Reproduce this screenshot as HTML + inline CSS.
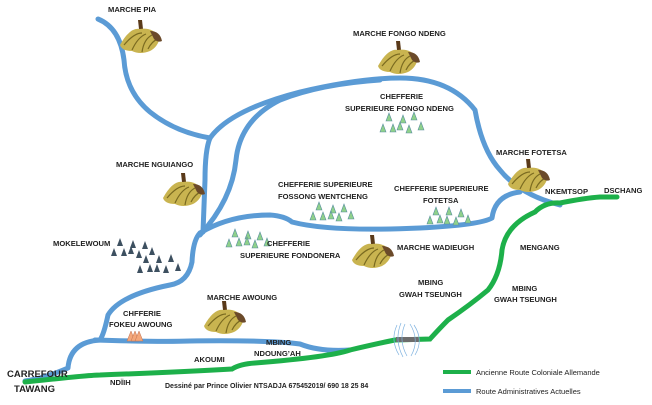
<!DOCTYPE html><html><head><meta charset="utf-8"><style>
body{margin:0;background:#fff;width:652px;height:405px;overflow:hidden}
svg{display:block}
text{font-family:"Liberation Sans",sans-serif;font-weight:bold;font-size:7.6px;fill:#222}
.b{fill:none;stroke:#5b9bd5;stroke-width:5;stroke-linecap:round;stroke-linejoin:round}
.g{fill:none;stroke:#1db04a;stroke-width:5;stroke-linecap:round}
.t{fill:#8fd18a;stroke:#5a8fa0;stroke-width:0.6}
.d{fill:#3d5060}
</style></head><body>
<svg width="652" height="405" viewBox="0 0 652 405">
<defs>
<g id="ban">
<path d="M-2,-17 L2,-17 L3,-8 L-1,-8Z" fill="#5a3a1a"/>
<path d="M-20,8 Q-10,-10 0,-8 Q12,-10 20,0 Q18,10 10,14 Q0,18 -8,14 Q-18,14 -20,8Z" fill="#c9b450"/>
<path d="M-16,8 Q-6,-4 2,-4 M-8,13 Q-2,0 6,-3 M2,15 Q4,2 12,-2 M8,12 Q12,4 18,2" stroke="#7a6a20" stroke-width="1.2" fill="none"/>
<path d="M10,-6 Q20,-6 22,4 Q18,6 14,2Z" fill="#6b4a2a"/>
</g>
<path id="tr" d="M0,-4 L3,4 L-3,4Z"/>
</defs>
<path class="b" d="M98,19 Q120,28 124,60 Q126,92 150,112 Q175,132 210,138"/>
<path class="b" d="M210,138 Q205,150 205,180 L203,232"/>
<path class="b" d="M210,138 Q230,110 300,92 Q360,78 400,78 Q450,78 475,110 Q482,150 500,170 Q520,195 560,205"/>
<path class="b" d="M200,235 Q232,200 236,160 Q240,120 280,100 Q320,84 380,80"/>
<path class="b" d="M200,233 Q230,215 270,215 Q285,216 292,222 Q330,232 420,228 Q480,225 492,218 Q495,195 520,192"/>
<path class="b" d="M200,233 Q193,240 192,262 Q188,282 170,285 Q120,295 108,315 Q104,334 100,340 Q70,342 68,368 Q45,378 25,381"/>
<path class="b" d="M95,340 Q160,342 190,341 Q270,340 300,344 Q320,352 350,350"/>
<path class="g" d="M25,382 Q90,375 100,375 Q180,372 232,369 Q240,364 255,363 Q330,357 350,350 Q380,343 395,340 L430,339 Q440,328 448,320 Q470,305 488,290 Q500,275 502,250 Q506,225 535,212 Q545,202 560,203 Q585,198 600,197 L617,197"/>
<rect x="396" y="337" width="23" height="5" fill="#6d6d6d"/>
<g fill="none" stroke="#7fb3e0" stroke-width="0.7">
<path d="M397,325 Q390,340 399,355"/><path d="M401,323 Q394,340 403,357"/><path d="M405,324 Q398,340 407,356"/>
<path d="M410,324 Q420,340 411,356"/><path d="M414,325 Q424,340 415,355"/>
</g>
<use href="#ban" x="140" y="37"/>
<use href="#ban" x="398" y="58"/>
<use href="#ban" x="183" y="190"/>
<use href="#ban" x="528" y="176"/>
<use href="#ban" x="372" y="252"/>
<use href="#ban" x="224" y="318"/>
<g class="t">
<use href="#tr" x="389" y="117"/><use href="#tr" x="403" y="119"/><use href="#tr" x="414" y="116"/><use href="#tr" x="383" y="128"/><use href="#tr" x="393" y="128"/><use href="#tr" x="400" y="126"/><use href="#tr" x="409" y="129"/><use href="#tr" x="421" y="126"/>
<use href="#tr" x="319" y="206"/><use href="#tr" x="333" y="209"/><use href="#tr" x="344" y="208"/><use href="#tr" x="313" y="216"/><use href="#tr" x="323" y="216"/><use href="#tr" x="331" y="215"/><use href="#tr" x="339" y="217"/><use href="#tr" x="351" y="215"/>
<use href="#tr" x="436" y="211"/><use href="#tr" x="449" y="211"/><use href="#tr" x="461" y="213"/><use href="#tr" x="430" y="220"/><use href="#tr" x="440" y="219"/><use href="#tr" x="447" y="220"/><use href="#tr" x="456" y="221"/><use href="#tr" x="468" y="219"/>
<use href="#tr" x="235" y="233"/><use href="#tr" x="248" y="235"/><use href="#tr" x="260" y="236"/><use href="#tr" x="229" y="243"/><use href="#tr" x="239" y="242"/><use href="#tr" x="247" y="241"/><use href="#tr" x="255" y="244"/><use href="#tr" x="267" y="242"/>
</g>
<g class="d">
<use href="#tr" x="120" y="242"/><use href="#tr" x="133" y="244"/><use href="#tr" x="145" y="245"/><use href="#tr" x="114" y="252"/><use href="#tr" x="124" y="252"/><use href="#tr" x="131" y="250"/><use href="#tr" x="139" y="254"/><use href="#tr" x="152" y="251"/><use href="#tr" x="146" y="259"/><use href="#tr" x="159" y="259"/><use href="#tr" x="171" y="258"/><use href="#tr" x="140" y="269"/><use href="#tr" x="150" y="268"/><use href="#tr" x="157" y="268"/><use href="#tr" x="166" y="269"/><use href="#tr" x="178" y="267"/>
</g>
<g fill="#f4a77a" stroke="#c07050" stroke-width="0.5">
<path d="M127,341 L131,331 L135,341Z"/><path d="M131,341 L135,331 L139,341Z"/><path d="M135,341 L139,331 L143,341Z"/>
</g>
<text x="108" y="12">MARCHE  PIA</text>
<text x="353" y="36">MARCHE  FONGO NDENG</text>
<text x="380" y="99">CHEFFERIE</text>
<text x="345" y="111">SUPERIEURE FONGO NDENG</text>
<text x="116" y="167">MARCHE  NGUIANGO</text>
<text x="278" y="187">CHEFFERIE SUPERIEURE</text>
<text x="278" y="199">FOSSONG WENTCHENG</text>
<text x="394" y="191">CHEFFERIE SUPERIEURE</text>
<text x="423" y="203">FOTETSA</text>
<text x="496" y="155">MARCHE  FOTETSA</text>
<text x="545" y="194">NKEMTSOP</text>
<text x="604" y="193">DSCHANG</text>
<text x="53" y="246">MOKELEWOUM</text>
<text x="267" y="246">CHEFFERIE</text>
<text x="240" y="258">SUPERIEURE FONDONERA</text>
<text x="397" y="250">MARCHE  WADIEUGH</text>
<text x="520" y="250">MENGANG</text>
<text x="418" y="285">MBING</text>
<text x="399" y="297">GWAH TSEUNGH</text>
<text x="512" y="291">MBING</text>
<text x="494" y="302">GWAH TSEUNGH</text>
<text x="207" y="300">MARCHE  AWOUNG</text>
<text x="123" y="316">CHFFERIE</text>
<text x="109" y="327">FOKEU AWOUNG</text>
<text x="266" y="345">MBING</text>
<text x="254" y="356">NDOUNG’AH</text>
<text x="194" y="362">AKOUMI</text>
<text x="110" y="385">NDÏIH</text>
<text x="165" y="388" style="font-size:7px">Dessiné par Prince Olivier NTSADJA 675452019/ 690 18 25 84</text>
<text x="7" y="377" style="font-size:9.5px">CARREFOUR</text>
<text x="14" y="392" style="font-size:9.5px">TAWANG</text>
<rect x="443" y="370" width="28" height="4" fill="#1db04a"/>
<rect x="443" y="389" width="28" height="4" fill="#5b9bd5"/>
<text x="476" y="375" style="font-weight:normal;font-size:7.5px">Ancienne Route Coloniale Allemande</text>
<text x="476" y="394" style="font-weight:normal;font-size:7.5px">Route Administratives Actuelles</text>
</svg>
</body></html>
